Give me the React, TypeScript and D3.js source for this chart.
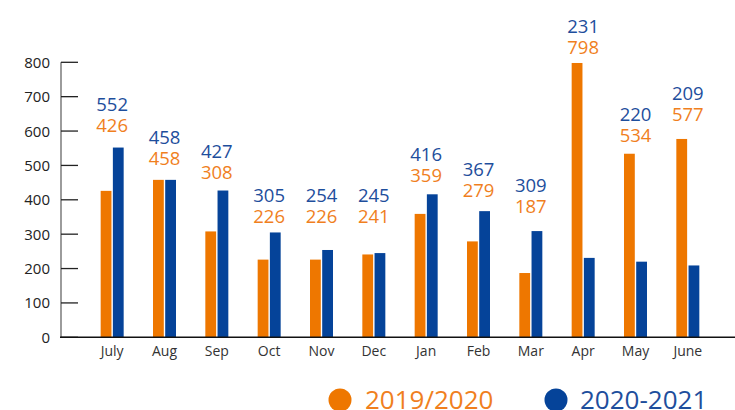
import React from "react";
import * as d3 from "d3";

const months = ["July", "Aug", "Sep", "Oct", "Nov", "Dec", "Jan", "Feb", "Mar", "Apr", "May", "June"];
const series2019 = [426, 458, 308, 226, 226, 241, 359, 279, 187, 798, 534, 577];
const series2020 = [552, 458, 427, 305, 254, 245, 416, 367, 309, 231, 220, 209];
// value level (in axis units) at which each month's pair of value labels sits
const labelLevels = [597, 501, 460, 333, 333, 333, 452, 408, 362, 824, 568, 629];
const yTicks = [0, 100, 200, 300, 400, 500, 600, 700, 800];
const seriesNames = ["2019/2020", "2020-2021"];

const ORANGE = "#EE7700";
const BLUE = "#054399";
const ORANGE_TXT = "#F07F1E";
const BLUE_TXT = "#1E4E9C";
const FONT = "'Open Sans', sans-serif";

export default function App() {
  const W = 735, H = 410;
  const axisX = 61;
  const y = d3.scaleLinear().domain([0, 800]).range([337.3, 62.3]);
  const x = d3.scaleBand<string>().domain(months).range([86, 714]).padding(0);
  const barW = 10.8;
  const gap = 1.4;

  return (
    <svg width={W} height={H} style={{ position: "absolute", left: 0, top: 0 }} fontFamily={FONT}>
      <rect width={W} height={H} fill="#fff" />
      {/* y axis */}
      <line x1={axisX} x2={axisX} y1={y(800)} y2={y(0)} stroke="#666" strokeWidth={1.3} />
      {yTicks.map((t) => (
        <g key={t}>
          <line x1={axisX} x2={axisX + 17} y1={y(t)} y2={y(t)} stroke="#222" strokeWidth={1.3} />
          <text x={50} y={y(t) + 5.5} textAnchor="end" fontSize={15} fill="#222">{t}</text>
        </g>
      ))}
      {/* bars */}
      {months.map((m, i) => {
        const cx = (x(m) as number) + x.bandwidth() / 2;
        const a = series2019[i];
        const b = series2020[i];
        const ly = y(labelLevels[i]);
        return (
          <g key={m}>
            <rect x={cx - barW - gap / 2} y={y(a)} width={barW} height={y(0) - y(a)} fill={ORANGE} />
            <rect x={cx + gap / 2} y={y(b)} width={barW} height={y(0) - y(b)} fill={BLUE} />
            <text x={cx} y={ly} textAnchor="middle" fontSize={18.5} fill={ORANGE_TXT}>{a}</text>
            <text x={cx} y={ly - 21} textAnchor="middle" fontSize={18.5} fill={BLUE_TXT}>{b}</text>
            <text x={cx} y={356} textAnchor="middle" fontSize={14} fill="#333">{m}</text>
          </g>
        );
      })}
      {/* x axis */}
      <line x1={axisX - 1} x2={W} y1={y(0)} y2={y(0)} stroke="#111" strokeWidth={1.5} />
      {/* legend */}
      <circle cx={340} cy={400} r={11.5} fill={ORANGE} />
      <text x={365} y={409} fontSize={26} fill={ORANGE_TXT}>{seriesNames[0]}</text>
      <circle cx={556} cy={400} r={11.5} fill={BLUE} />
      <text x={580} y={409} fontSize={26} fill={BLUE_TXT}>{seriesNames[1]}</text>
    </svg>
  );
}
